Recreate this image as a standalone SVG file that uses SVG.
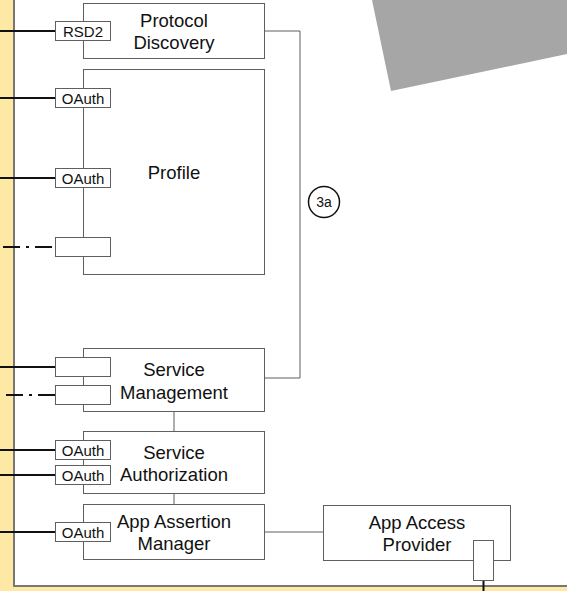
<svg xmlns="http://www.w3.org/2000/svg" width="567" height="591" viewBox="0 0 567 591">
<style>
.box{fill:#fff;stroke:#5f5f5f;stroke-width:1}
.port{fill:#fff;stroke:#5f5f5f;stroke-width:1}
.lbl{font-family:"Liberation Sans",Arial,sans-serif;font-size:18.5px;fill:#111;text-anchor:middle}
.plbl{font-family:"Liberation Sans",Arial,sans-serif;font-size:15px;fill:#111;text-anchor:middle}
.ext{stroke:#111;stroke-width:2;fill:none}
.dd{stroke:#111;stroke-width:2;fill:none;stroke-dasharray:17 6 3 6}
.conn{stroke:#5f5f5f;stroke-width:1;fill:none}
</style>
<rect x="0" y="0" width="567" height="591" fill="#fde8a4"/>
<rect x="14" y="-3" width="560" height="589" fill="#fff" stroke="#777" stroke-width="2"/>
<polygon points="372,0 567,0 567,54 391,91" fill="#a6a6a6"/>
<g id="connectors">
<line class="ext" x1="0" y1="31" x2="55" y2="31"/>
<line class="ext" x1="0" y1="98" x2="55" y2="98"/>
<line class="ext" x1="0" y1="178" x2="55" y2="178"/>
<line class="dd" x1="55" y1="247" x2="0" y2="247" stroke-dashoffset="29"/>
<line class="ext" x1="0" y1="367" x2="55" y2="367"/>
<line class="dd" x1="55" y1="395" x2="0" y2="395"/>
<line class="ext" x1="0" y1="450" x2="55" y2="450"/>
<line class="ext" x1="0" y1="475" x2="55" y2="475"/>
<line class="ext" x1="0" y1="532" x2="55" y2="532"/>
<polyline class="conn" points="265,31 300,31 300,378 265,378"/>
<line class="conn" x1="174" y1="412" x2="174" y2="431"/>
<line class="conn" x1="174" y1="494" x2="174" y2="504"/>
<line class="conn" x1="265" y1="532" x2="323" y2="532"/>
<line class="ext" x1="483.5" y1="580" x2="483.5" y2="591"/>
</g>
<g id="label-3a">
<circle cx="324" cy="202" r="15.5" fill="#fff" stroke="#111" stroke-width="1.5"/>
<text x="324" y="207" font-family="'Liberation Sans',Arial,sans-serif" font-size="14" text-anchor="middle" fill="#111">3a</text>
</g>
<g id="protocol-discovery">
<rect class="box" x="83.5" y="3.5" width="181" height="55"/>
<text class="lbl" x="174" y="27">Protocol</text>
<text class="lbl" x="174" y="49">Discovery</text>
<rect class="port" x="55.5" y="21.5" width="55" height="19"/>
<text class="plbl" x="83" y="36.5">RSD2</text>
</g>
<g id="profile">
<rect class="box" x="83.5" y="69.5" width="181" height="205"/>
<text class="lbl" x="174" y="179">Profile</text>
<rect class="port" x="55.5" y="88.5" width="55" height="19"/>
<text class="plbl" x="83" y="103.5">OAuth</text>
<rect class="port" x="55.5" y="168.5" width="55" height="19"/>
<text class="plbl" x="83" y="183.5">OAuth</text>
<rect class="port" x="55.5" y="237.5" width="55" height="19"/>
</g>
<g id="service-management">
<rect class="box" x="83.5" y="348.5" width="181" height="63"/>
<text class="lbl" x="174" y="376">Service</text>
<text class="lbl" x="174" y="399">Management</text>
<rect class="port" x="55.5" y="357.5" width="55" height="19"/>
<rect class="port" x="55.5" y="385.5" width="55" height="19"/>
</g>
<g id="service-authorization">
<rect class="box" x="83.5" y="431.5" width="181" height="62"/>
<text class="lbl" x="174" y="459">Service</text>
<text class="lbl" x="174" y="481">Authorization</text>
<rect class="port" x="55.5" y="440.5" width="55" height="19"/>
<text class="plbl" x="83" y="455.5">OAuth</text>
<rect class="port" x="55.5" y="465.5" width="55" height="19"/>
<text class="plbl" x="83" y="480.5">OAuth</text>
</g>
<g id="app-assertion-manager">
<rect class="box" x="83.5" y="504.5" width="181" height="55"/>
<text class="lbl" x="174" y="528">App Assertion</text>
<text class="lbl" x="174" y="550">Manager</text>
<rect class="port" x="55.5" y="522.5" width="55" height="19"/>
<text class="plbl" x="83" y="537.5">OAuth</text>
</g>
<g id="app-access-provider">
<rect class="box" x="323.5" y="505.5" width="187" height="55"/>
<text class="lbl" x="417" y="529">App Access</text>
<text class="lbl" x="417" y="551">Provider</text>
<rect class="port" x="473.5" y="540.5" width="20" height="40"/>
</g>
</svg>
